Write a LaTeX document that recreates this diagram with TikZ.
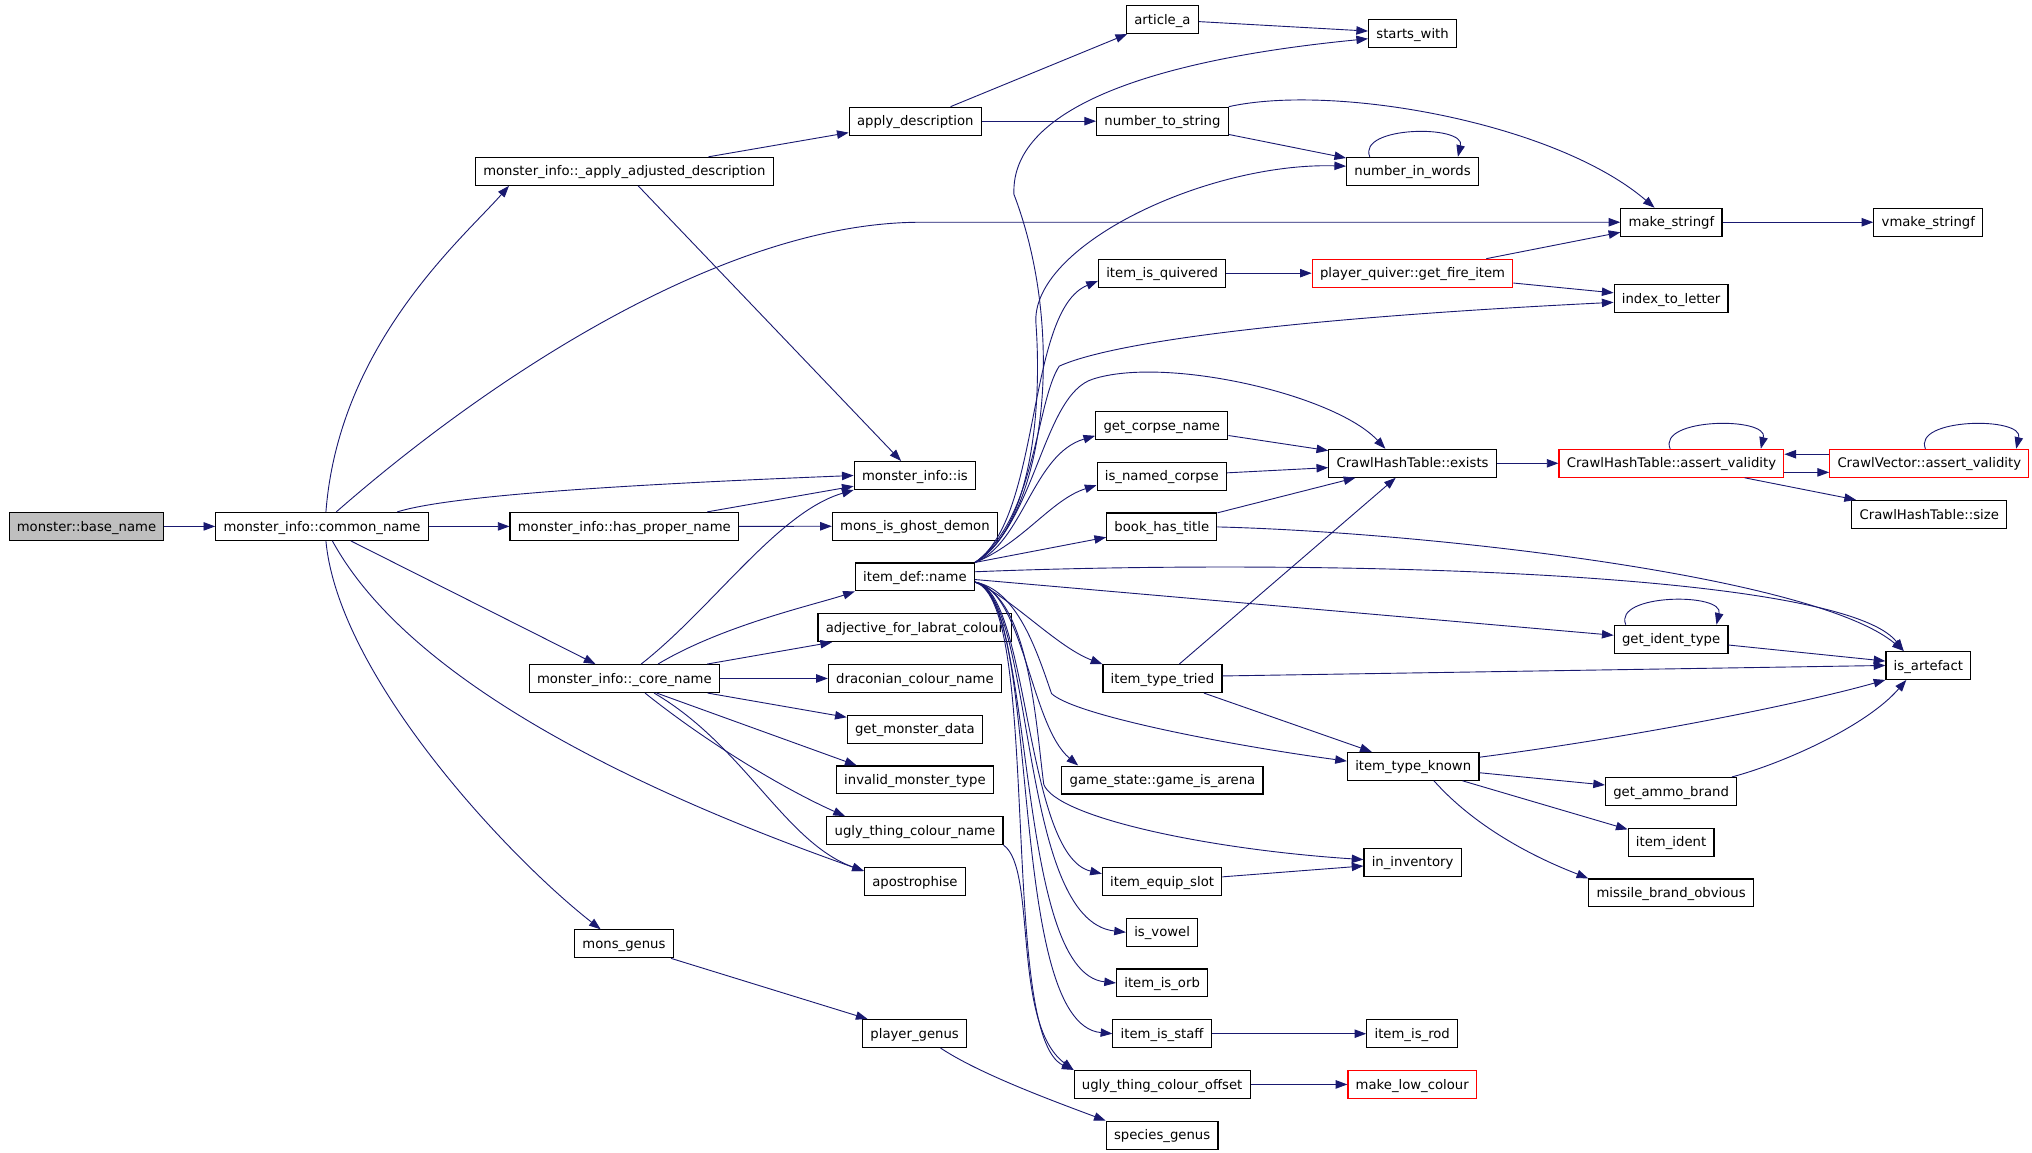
\documentclass[tikz,border=0pt]{standalone}
\usepackage{fontspec}
\setmainfont{DejaVu Sans}
\usetikzlibrary{positioning,arrows.meta}
\definecolor{edgeblue}{HTML}{191970}

\begin{document}
\begin{tikzpicture}[
x=1pt, y=-1pt,
node distance=39.15pt, on grid,
>={Triangle[length=9pt,width=6.5pt]},
func/.style={rectangle, draw=black, line width=0.9pt, fill=white, inner xsep=6pt, inner ysep=0pt, minimum height=21.5pt, text height=9.6pt, text depth=2.4pt, font=\fontsize{10.2}{12}\selectfont},
root/.style={func, fill=gray!50},
trunc/.style={func, draw=red},
call/.style={->, draw=edgeblue, line width=0.7pt}
]
\useasboundingbox (0,0) rectangle (1568,889);

\node[root](base_name) at (66.75,406.2) {monster::base\_name};
\node[func](common_name) at (248.5,406.2) {monster\_info::common\_name};
\node[func](apply_adj) at (481.75,132.2) {monster\_info::\_apply\_adjusted\_description};
\node[func](has_proper) at (481.75,406.2) {monster\_info::has\_proper\_name};
\node[func](core_name) at (481.75,523.6) {monster\_info::\_core\_name};
\node[func](mons_genus) at (481.5,728.3) {mons\_genus};

\node[func](apply_desc) at (706.25,93.5) {apply\_description};
\node[func](info_is) at (706,366.9) {monster\_info::is};
\node[func](ghost_demon)[below=of info_is] {mons\_is\_ghost\_demon};
\node[func](item_name)[below=of ghost_demon] {item\_def::name};
\node[func](labrat)[below=of item_name] {adjective\_for\_labrat\_colour};
\node[func](draconian)[below=of labrat] {draconian\_colour\_name};
\node[func](monster_data)[below=of draconian] {get\_monster\_data};
\node[func](invalid_type)[below=of monster_data] {invalid\_monster\_type};
\node[func](ugly_name)[below=of invalid_type] {ugly\_thing\_colour\_name};
\node[func](apostrophise)[below=of ugly_name] {apostrophise};
\node[func](player_genus) at (705.75,797.5) {player\_genus};

\node[func](article_a) at (897,15.1) {article\_a};
\node[func](num_to_str) at (897,93.5) {number\_to\_string};
\node[func](quivered) at (896.75,210.8) {item\_is\_quivered};
\node[func](corpse_name) at (896.5,328.3) {get\_corpse\_name};
\node[func](named_corpse)[below=of corpse_name] {is\_named\_corpse};
\node[func](book_title)[below=of named_corpse] {book\_has\_title};
\node[func](type_tried) at (897,523.6) {item\_type\_tried};
\node[func](game_arena)[below=78.3pt of type_tried] {game\_state::game\_is\_arena};
\node[func](equip_slot) at (896.75,680.2) {item\_equip\_slot};
\node[func](is_vowel)[below=of equip_slot] {is\_vowel};
\node[func](is_orb)[below=of is_vowel] {item\_is\_orb};
\node[func](is_staff)[below=of is_orb] {item\_is\_staff};
\node[func](ugly_offset)[below=of is_staff] {ugly\_thing\_colour\_offset};
\node[func](species_genus)[below=of ugly_offset] {species\_genus};

\node[func](starts_with) at (1090,25.9) {starts\_with};
\node[func](num_words) at (1090,132.2) {number\_in\_words};
\node[trunc](fire_item) at (1090,210.8) {player\_quiver::get\_fire\_item};
\node[func](ht_exists) at (1090,357.5) {CrawlHashTable::exists};
\node[func](type_known) at (1090.5,591.3) {item\_type\_known};
\node[func](in_inv) at (1090,665.3) {in\_inventory};
\node[func](is_rod)[right=193pt of is_staff] {item\_is\_rod};
\node[trunc](low_colour)[right=193pt of ugly_offset] {make\_low\_colour};

\node[func](make_str) at (1289.75,171.5) {make\_stringf};
\node[func](index_letter) at (1289.5,230.3) {index\_to\_letter};
\node[trunc](ht_valid) at (1289.75,357.5) {CrawlHashTable::assert\_validity};
\node[func](ident_type) at (1289.5,493.2) {get\_ident\_type};
\node[func](ammo_brand) at (1289.5,610.7) {get\_ammo\_brand};
\node[func](item_ident)[below=of ammo_brand] {item\_ident};
\node[func](missile)[below=of item_ident] {missile\_brand\_obvious};

\node[func](vmake_str)[right=198.25pt of make_str] {vmake\_stringf};
\node[trunc](cv_valid) at (1488.75,357.5) {CrawlVector::assert\_validity};
\node[func](ht_size)[below=39.4pt of cv_valid] {CrawlHashTable::size};
\node[func](artefact) at (1488,513.5) {is\_artefact};

\draw[call] (base_name) -- (common_name);
\draw[call] ([xshift=3]common_name.north) .. controls +(10,-130) and +(-35,40) .. ([xshift=-89]apply_adj.south);
\draw[call] ([xshift=11]common_name.north) .. controls +(120,-105) and +(-150,0) .. ([xshift=-540]make_str.west) -- (make_str.west);
\draw[call] ([xshift=58]common_name.north) .. controls +(45,-14) and +(-150,6) .. (info_is.west);
\draw[call] (common_name) -- (has_proper);
\draw[call] (common_name) -- (core_name);
\draw[call] ([xshift=8]common_name.south) .. controls +(60,110) and +(-170,-60) .. ([yshift=8]apostrophise.west);
\draw[call] ([xshift=3]common_name.south) .. controls +(9.5,103) and +(-73.5,-57.5) .. ([xshift=-18]mons_genus.north);

\draw[call] (apply_adj) -- (apply_desc);
\draw[call] (apply_adj) -- (info_is);
\draw[call] (apply_desc) -- (article_a);
\draw[call] (apply_desc) -- (num_to_str);
\draw[call] (article_a) -- (starts_with);
\draw[call] (num_to_str.north east) .. controls +(81,-18) and +(-77,-66) .. ([xshift=-13]make_str.north);
\draw[call] (num_to_str) -- (num_words);
\draw[call] ([xshift=-33]num_words.north) .. controls +(-10,-24) and +(6,-25) .. ([xshift=35]num_words.north);
\draw[call] (make_str) -- (vmake_str);

\draw[call] (has_proper) -- (info_is);
\draw[call] (has_proper) -- (ghost_demon);

\draw[call] ([xshift=13]core_name.north) .. controls +(55,-43) and +(-58.5,17) .. (info_is.south west);
\draw[call] ([xshift=26]core_name.north) .. controls +(50,-30) and +(-30,10) .. (item_name.south west);
\draw[call] (core_name) -- (labrat);
\draw[call] (core_name) -- (draconian);
\draw[call] (core_name) -- (monster_data);
\draw[call] ([xshift=25]core_name.south) -- ([xshift=-45]invalid_type.north);
\draw[call] ([xshift=16]core_name.south) .. controls +(50,40) and +(-45,-20) .. ([xshift=-54]ugly_name.north);
\draw[call] ([xshift=23]core_name.south) .. controls +(70,41) and +(-61,-22) .. ([yshift=8]apostrophise.west);

\draw[call] (mons_genus) -- (player_genus);
\draw[call] ([xshift=20]player_genus.south) .. controls +(30,20) and +(-40,-15) .. (species_genus.north west);

\draw[call] (item_name.north east) .. controls +(52,-30) and +(42,110) .. ([xshift=30,yshift=284]item_name.north east) .. controls +(-3,-70) and +(-155,15) .. ([yshift=-4]starts_with.west);
\draw[call] (item_name.north east) .. controls +(42,-24) and +(5,70) .. ([xshift=47,yshift=184]item_name.north east) .. controls +(-5,-60) and +(-108,-3) .. ([yshift=4]num_words.west);
\draw[call] (item_name.north east) .. controls +(52,-35) and +(-56,23) .. ([yshift=-6]quivered.west);
\draw[call] (item_name.north east) .. controls +(47,-34) and +(-18,27) .. ([xshift=65,yshift=151.5]item_name.north east) .. controls +(42,-19) and +(-244,12) .. ([yshift=-3]index_letter.west);
\draw[call] (item_name.north east) .. controls +(47,-29) and +(-39,12) .. ([xshift=91,yshift=141.5]item_name.north east) .. controls +(56,-18) and +(-39,-42) .. ([xshift=-21]ht_exists.north);
\draw[call] (item_name.north east) .. controls +(37,-15) and +(-48,14) .. ([yshift=-8]corpse_name.west);
\draw[call] (item_name.north east) .. controls +(37,-15) and +(-35,11) .. ([yshift=-7]named_corpse.west);
\draw[call] (item_name.north east) -- ([yshift=-8]book_title.west);
\draw[call] ([yshift=4]item_name.east) .. controls +(247,-10) and +(-49,-63) .. ([xshift=-19]artefact.north);
\draw[call] ([yshift=-2]item_name.east) -- ([yshift=3]ident_type.west);
\draw[call] ([yshift=-4]item_name.east) .. controls +(27,11) and +(-35,-13) .. (type_tried.north west);
\draw[call] ([yshift=-4]item_name.east) .. controls +(32,6) and +(-12,-35) .. ([xshift=59,yshift=-90]item_name.east) .. controls +(18,17) and +(-89,-12) .. ([yshift=4]type_known.west);
\draw[call] ([yshift=-4]item_name.east) .. controls +(37,6) and +(-37,-31) .. ([xshift=-65]game_arena.north);
\draw[call] ([yshift=-4]item_name.east) .. controls +(42,11) and +(-6,-45) .. ([xshift=53,yshift=-160]item_name.east) .. controls +(9,25) and +(-122,-8) .. ([yshift=2]in_inv.west);
\draw[call] ([yshift=-4]item_name.east) .. controls +(42,6) and +(-60,-14) .. ([yshift=6]equip_slot.west);
\draw[call] ([yshift=-4]item_name.east) .. controls +(47,11) and +(-84,-9) .. (is_vowel.west);
\draw[call] ([yshift=-4]item_name.east) .. controls +(47,11) and +(-79,-8) .. (is_orb.west);
\draw[call] ([yshift=-4]item_name.east) .. controls +(52,11) and +(-83,-8) .. (is_staff.west);
\draw[call] ([yshift=-4]item_name.east) .. controls +(52,16) and +(-58,-26) .. (ugly_offset.north west);
\draw[call] (ugly_name.south east) .. controls +(26,18) and +(-48,-36) .. (ugly_offset.north west);

\draw[call] (quivered) -- (fire_item);
\draw[call] (fire_item) -- (make_str);
\draw[call] (fire_item) -- (index_letter);
\draw[call] (corpse_name) -- (ht_exists);
\draw[call] (named_corpse) -- (ht_exists);
\draw[call] (book_title) -- (ht_exists);
\draw[call] (book_title.east) .. controls +(159,4) and +(-69,-58) .. ([xshift=-19]artefact.north);
\draw[call] (type_tried) -- (ht_exists);
\draw[call] ([yshift=2]type_tried.east) -- (artefact.west);
\draw[call] (type_tried) -- (type_known);
\draw[call] (equip_slot) -- (in_inv);
\draw[call] (is_staff) -- (is_rod);
\draw[call] (ugly_offset) -- (low_colour);

\draw[call] ([yshift=7]type_known.east) .. controls +(108,-14) and +(-75,21) .. (artefact.south west);
\draw[call] (type_known) -- (ammo_brand);
\draw[call] (type_known) -- (item_ident);
\draw[call] ([xshift=16]type_known.south) .. controls +(40,45) and +(-20,-8) .. (missile.north west);
\draw[call] ([xshift=47]ammo_brand.north) .. controls +(38,-10) and +(-31,36) .. ([xshift=-17]artefact.south);
\draw[call] (ident_type) -- (artefact);
\draw[call] ([xshift=-35]ident_type.north) .. controls +(-10,-24) and +(6,-25) .. ([xshift=35]ident_type.north);

\draw[call] (ht_exists) -- (ht_valid);
\draw[call] ([xshift=-1]ht_valid.north) .. controls +(-10,-24) and +(6,-25) .. ([xshift=69]ht_valid.north);
\draw[call] ([yshift=-7]ht_valid.east) -- ([yshift=-7]cv_valid.west);
\draw[call] ([yshift=7]cv_valid.west) -- ([yshift=7]ht_valid.east);
\draw[call] ([xshift=-3]cv_valid.north) .. controls +(-10,-24) and +(6,-25) .. ([xshift=67]cv_valid.north);
\draw[call] (ht_valid) -- (ht_size);
\end{tikzpicture}
\end{document}
